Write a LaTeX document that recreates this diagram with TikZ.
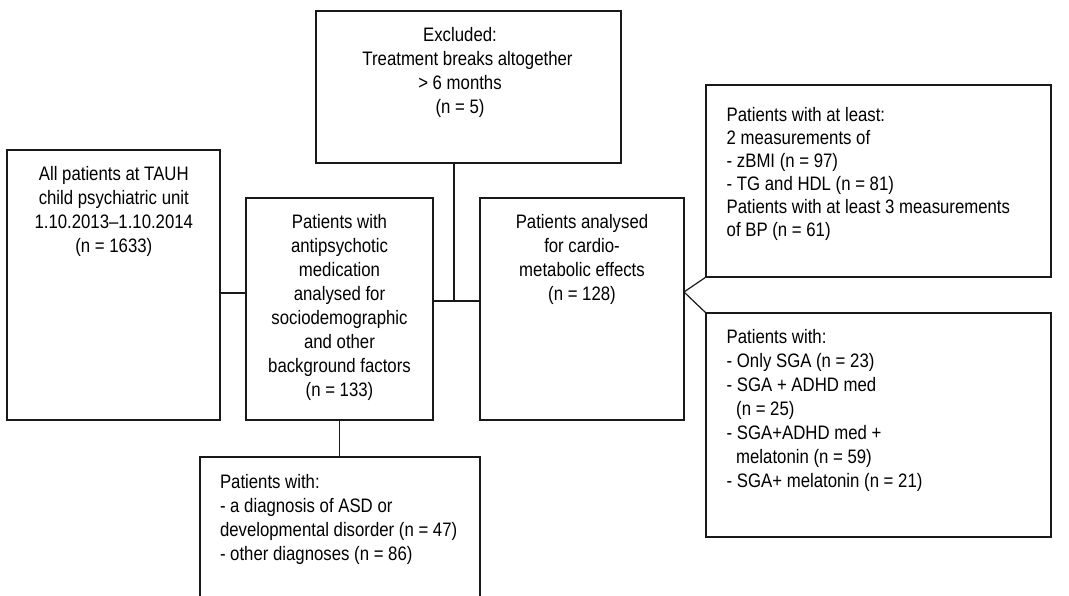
\documentclass[tikz,border=0pt]{standalone}
\usepackage{fontspec}
\setmainfont{Liberation Sans}[FakeStretch=0.86]
\begin{document}
\begin{tikzpicture}[x=1pt,y=-1pt,
  box/.style={draw=black!90,line width=1.2pt,inner sep=0pt,outer sep=0pt,rectangle},
  txt/.style={inner sep=0pt,outer sep=0pt,text=black,font=\fontsize{19.5}{24}\selectfont},
  link/.style={draw=black!90,line width=1.2pt}]
\useasboundingbox (0,0) rectangle (1069,595);
\clip (0,0) rectangle (1069,595);
% boxes
\node[box,minimum width=213pt,minimum height=270pt] (A) at (113.5,285) {};
\node[box,minimum width=305pt,minimum height=152pt] (X) at (468.5,87) {};
\node[box,minimum width=187pt,minimum height=222pt] (B) at (339.5,309) {};
\node[box,minimum width=204pt,minimum height=222pt] (C) at (582,309) {};
\node[box,minimum width=345pt,minimum height=192pt] (D) at (878.5,181) {};
\node[box,minimum width=345pt,minimum height=224pt] (E) at (878.5,425) {};
\node[box,minimum width=280pt,minimum height=183pt] (F) at (340,548.5) {};
% texts
\node[txt,anchor=north,align=center] (tA) at (113.8,166) {All patients at TAUH\\child psychiatric unit\\1.10.2013--1.10.2014\\(n = 1633)};
\node[txt,anchor=north,align=center] (tX) at (460,27) {Excluded:\\\hspace*{15pt}Treatment breaks altogether\\> 6 months\\(n = 5)};
\node[txt,anchor=north,align=center] (tB) at (339.5,214) {Patients with\\antipsychotic\\medication\\analysed for\\sociodemographic\\and other\\background factors\\(n = 133)};
\node[txt,anchor=north,align=center] (tC) at (582,214) {Patients analysed\\for cardio-\\metabolic effects\\(n = 128)};
\node[txt,anchor=north west,align=left,font=\fontsize{19.5}{23}\selectfont] (tD) at (726.7,107) {Patients with at least:\\2 measurements of\\- zBMI (n = 97)\\- TG and HDL (n = 81)\\Patients with at least 3 measurements\\of BP (n = 61)};
\node[txt,anchor=north west,align=left] (tE) at (726.7,329) {Patients with:\\- Only SGA (n = 23)\\- SGA + ADHD med\\\hspace*{9.5pt}(n = 25)\\- SGA+ADHD med +\\\hspace*{9.5pt}melatonin (n = 59)\\- SGA+ melatonin (n = 21)};
\node[txt,anchor=north west,align=left] (tF) at (220,474) {Patients with:\\- a diagnosis of ASD or\\developmental disorder (n = 47)\\- other diagnoses (n = 86)};
% junction coordinates
\coordinate (jAB) at (0,293);
\coordinate (jBC) at (0,301);
\coordinate (jX) at (454,0);
\coordinate (apex) at (684,292);
% connectors
\draw[link] (A.east |- jAB) -- (B.west |- jAB);
\draw[link] (B.east |- jBC) -- (C.west |- jBC);
\draw[link] (jX |- X.south) -- (jX |- jBC);
\draw[link] (D.south west) -- (apex) -- (E.north west);
\draw[link] (B.south) -- (B.south |- F.north);
\end{tikzpicture}
\end{document}
